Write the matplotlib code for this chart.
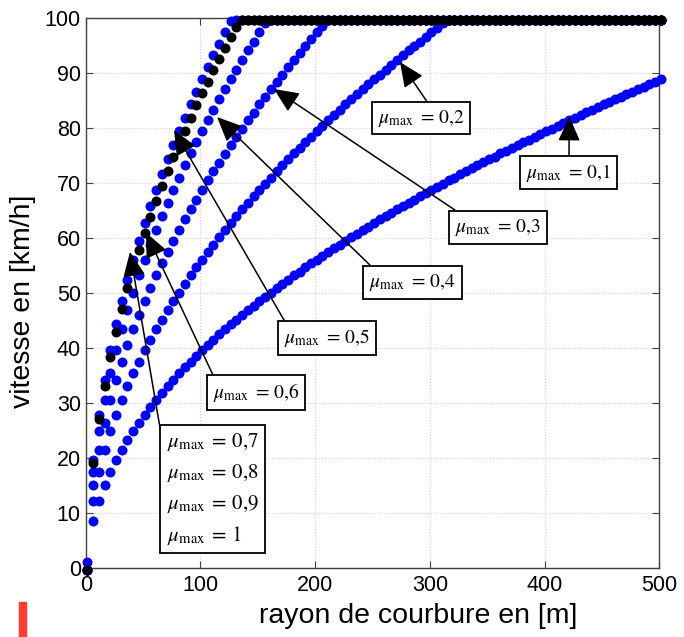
import matplotlib
matplotlib.use('Agg')
import matplotlib.pyplot as plt
import matplotlib.patches as mpatches
from matplotlib.transforms import offset_copy, ScaledTranslation
import numpy as np

# ---------------- data ----------------
R = np.arange(0, 505, 5)  # rayon de courbure [m]

v_mu01 = [0, 8.9, 12.6, 15.4, 17.8, 19.9, 21.8, 23.6, 25.2, 26.7, 28.2,
          29.6, 30.9, 32.2, 33.4, 34.5, 35.7, 36.8, 37.8, 38.9, 39.9,
          40.9, 41.8, 42.8, 43.7, 44.6, 45.5, 46.3, 47.2, 48.0, 48.8,
          49.6, 50.4, 51.2, 52.0, 52.7, 53.5, 54.2, 55.0, 55.7, 56.4,
          57.1, 57.8, 58.5, 59.1, 59.8, 60.5, 61.1, 61.8, 62.4, 63.0,
          63.7, 64.3, 64.9, 65.5, 66.1, 66.7, 67.3, 67.9, 68.5, 69.1,
          69.6, 70.2, 70.8, 71.3, 71.9, 72.4, 73.0, 73.5, 74.1, 74.6,
          75.1, 75.7, 76.2, 76.7, 77.2, 77.7, 78.2, 78.7, 79.2, 79.7,
          80.2, 80.7, 81.2, 81.7, 82.2, 82.7, 83.2, 83.6, 84.1, 84.6,
          85.0, 85.5, 86.0, 86.4, 86.9, 87.4, 87.8, 88.3, 88.7, 89.2]

v_mu02 = [0, 12.6, 17.8, 21.8, 25.2, 28.2, 30.9, 33.4, 35.7, 37.8, 39.9,
          41.8, 43.7, 45.5, 47.2, 48.8, 50.4, 52.0, 53.5, 55.0, 56.4,
          57.8, 59.1, 60.5, 61.8, 63.0, 64.3, 65.5, 66.7, 67.9, 69.1,
          70.2, 71.3, 72.4, 73.5, 74.6, 75.7, 76.7, 77.7, 78.7, 79.8,
          80.7, 81.7, 82.7, 83.6, 84.6, 85.5, 86.5, 87.4, 88.3, 89.2,
          90.0, 90.9, 91.8, 92.7, 93.5, 94.4, 95.2, 96.0, 96.9, 97.7,
          98.5, 99.3] + [100] * 38

v_mu03 = [0, 15.4, 21.8, 26.7, 30.9, 34.5, 37.8, 40.9, 43.7, 46.3, 48.8,
          51.2, 53.5, 55.7, 57.8, 59.8, 61.8, 63.7, 65.5, 67.3, 69.0,
          70.8, 72.4, 74.0, 75.6, 77.2, 78.7, 80.2, 81.7, 83.1, 84.6,
          86.0, 87.3, 88.7, 90.0, 91.3, 92.6, 93.9, 95.2, 96.4, 97.7,
          98.9] + [100] * 59

v_mu04 = [0, 17.8, 25.2, 30.9, 35.7, 39.9, 43.7, 47.2, 50.4, 53.5, 56.4,
          59.1, 61.8, 64.3, 66.7, 69.1, 71.3, 73.5, 75.7, 77.7, 79.8,
          81.7, 83.6, 85.5, 87.4, 89.2, 90.9, 92.7, 94.4, 96.0, 97.7,
          99.3] + [100] * 69

v_mu05 = [1.5, 19.9, 28.2, 34.5, 39.9, 44.6, 48.8, 52.7, 56.4, 59.8, 63.0,
          66.1, 69.1, 71.9, 74.6, 77.2, 79.7, 82.2, 84.6, 86.9, 89.2,
          91.4, 93.5, 95.6, 97.7, 99.7] + [100] * 75

v_mu06_1 = [0, 19.4, 27.4, 33.5, 38.7, 43.3, 47.4, 51.2, 54.8, 58.1, 61.2,
            64.2, 67.1, 69.8, 72.5, 75.0, 77.5, 79.8, 82.2, 84.4, 86.6,
            88.7, 90.8, 92.9, 94.9, 96.8, 98.7] + [100] * 74

labels_single = ['0,1', '0,2', '0,3', '0,4', '0,5', '0,6']
labels_multi = ['0,7', '0,8', '0,9', '1']

# ---------------- figure ----------------
plt.rcParams['font.family'] = ['Liberation Sans', 'DejaVu Sans']
plt.rcParams['mathtext.fontset'] = 'stix'

W, H = 684, 637
fig = plt.figure(figsize=(W / 100, H / 100), dpi=100)
ax = fig.add_axes([85.7 / W, 1 - 568.3 / H, 573.6 / W, 550.3 / H])

trans = offset_copy(ax.transData, fig=fig, x=1.6, y=-1.6, units='dots')

blue = '#0000ff'
for v, c in [(v_mu01, blue), (v_mu02, blue), (v_mu03, blue),
             (v_mu04, blue), (v_mu05, blue), (v_mu06_1, 'black')]:
    ax.plot(R, v, 'o', color=c, ms=7.2, mec='none', transform=trans,
            clip_on=False, zorder=3)

ax.set_xlim(0, 500)
ax.set_ylim(0, 100)
ax.set_xticks(range(0, 501, 100))
ax.set_yticks(range(0, 101, 10))
ax.tick_params(direction='in', top=True, right=True, length=5,
               labelsize=15.5, color='#404040')
ax.tick_params(axis='x', pad=5)
ax.tick_params(axis='y', pad=3.5)
ax.grid(True, color='#cfcfcf', linestyle=':', linewidth=0.8)
ax.set_axisbelow(True)
for s in ax.spines.values():
    s.set_color('#404040')
    s.set_linewidth(1.0)

fig.text(418 / W, 1 - 616 / H, 'rayon de courbure en [m]', fontsize=20.5,
         ha='center', va='center')
fig.text(23 / W, 1 - 301 / H, 'vitesse en [km/h]', fontsize=20.5,
         rotation=90, ha='center', va='center')

# ---------------- annotations ----------------
box_kw = dict(boxstyle='square,pad=0.3', fc='white', ec='black', lw=1.3)
arrow_kw = dict(arrowstyle='-|>,head_length=0.85,head_width=0.38',
                mutation_scale=18, color='black', lw=1.1,
                shrinkA=0, shrinkB=0)

box_pos = [(420.8, 71.9), (292.1, 81.8), (359.4, 61.9),
           (284.9, 51.9), (210.3, 41.9), (148.4, 31.9)]
arrow_start = [(421.3, 75.1), (297.5, 84.8), (321.9, 65.1),
               (247.8, 55.1), (172.9, 45.1), (111.0, 35.1)]
arrow_tip = [(421.5, 82.1), (274.0, 92.0), (164.1, 87.1),
             (114.5, 82.0), (77.0, 79.6), (52.6, 61.0)]


def mu_label(val):
    return r'$\mu_{\mathrm{max}}\;=\,' + val.replace(',', '{,}') + '$'


for lab, bp, st, tp in zip(labels_single, box_pos, arrow_start, arrow_tip):
    ax.annotate('', xy=tp, xytext=st, arrowprops=arrow_kw, zorder=7,
                annotation_clip=False)
    ax.text(bp[0], bp[1], mu_label(lab), fontsize=14,
            ha='center', va='center', bbox=box_kw, zorder=8)

# multi-label box
ax.annotate('', xy=(38.6, 57.5), xytext=(64.8, 25.5), arrowprops=arrow_kw,
            zorder=7, annotation_clip=False)
multi = '\n'.join(mu_label(l) for l in labels_multi)
ax.text(114.2, 14.4, multi, fontsize=15, ha='left', va='center',
        linespacing=1.55, bbox=box_kw, zorder=8,
        transform=ax.transData + ScaledTranslation(-0.5, 0,
                                                   fig.dpi_scale_trans))

# red mark at bottom left
fig.add_artist(mpatches.Rectangle((19.3 / W, 0), 6.7 / W, 35.3 / H,
                                  transform=fig.transFigure,
                                  color='#ff3b2f', zorder=10))

fig.savefig('out.png', dpi=100)
